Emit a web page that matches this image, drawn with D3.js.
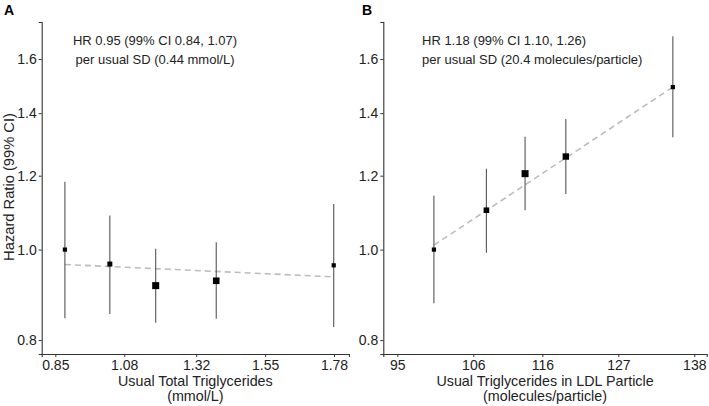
<!DOCTYPE html>
<html><head><meta charset="utf-8">
<script src="https://cdn.jsdelivr.net/npm/d3@7"></script>
<style>body{margin:0;background:#fff}text{font-family:"Liberation Sans",Arial,sans-serif}</style>
</head><body><svg id="c" width="709" height="406"></svg>
<script>
// Panel A data
const xA = [0.882, 1.032, 1.185, 1.387, 1.779];
const hrA = [1.000, 0.965, 0.915, 0.926, 0.962];
const loA = [0.844, 0.853, 0.835, 0.843, 0.826];
const hiA = [1.182, 1.088, 1.002, 1.018, 1.119];
const sizeA = [4.2, 5, 7, 6.6, 4.2];
const trendA = [[0.882, 0.964], [1.779, 0.935]];
const ticksA = [0.85, 1.08, 1.32, 1.55, 1.78];
// Panel B data
const xB = [100.3, 107.9, 113.5, 119.4, 134.9];
const hrB = [1.000, 1.102, 1.206, 1.258, 1.493];
const loB = [0.876, 0.992, 1.102, 1.147, 1.319];
const hiB = [1.142, 1.221, 1.321, 1.380, 1.692];
const sizeB = [4.2, 5.6, 7, 6.4, 4.2];
const trendB = [[100.3, 1.011], [134.9, 1.493]];
const ticksB = [95, 106, 116, 127, 138];
const yTicks = [0.8, 1.0, 1.2, 1.4, 1.6];

const svg = d3.select("#c");
const y = d3.scaleLog().domain([0.773, 1.753]).range([354, 22]);

function panel(opt) {
  const x = d3.scaleLinear().domain(opt.xdom).range(opt.xrange);
  const g = svg.append("g");
  const ya = g.append("g").attr("transform", `translate(${opt.xrange[0]},0)`)
    .call(d3.axisLeft(y).tickValues(yTicks).tickFormat(d3.format(".1f")).tickSizeOuter(0).tickSize(3).tickPadding(2));
  const xa = g.append("g").attr("transform", `translate(0,354)`)
    .call(d3.axisBottom(x).tickValues(opt.ticks).tickFormat(d => String(d)).tickSizeOuter(0).tickSize(3).tickPadding(3));
  [ya, xa].forEach(a => {
    a.select(".domain").attr("stroke", "#333").attr("stroke-width", 1.1);
    a.selectAll(".tick line").attr("stroke", "#333");
    a.selectAll(".tick text").attr("fill", "#222").style("font-size", "14px").style("font-family", '"Liberation Sans",Arial,sans-serif');
  });
  g.append("line")
    .attr("x1", x(opt.trend[0][0])).attr("y1", y(opt.trend[0][1]))
    .attr("x2", x(opt.trend[1][0])).attr("y2", y(opt.trend[1][1]))
    .attr("stroke", "#bdbdbd").attr("stroke-width", 1.6).attr("stroke-dasharray", "6,4");
  const idx = d3.range(opt.xs.length);
  g.selectAll(".ci").data(idx).join("line")
    .attr("x1", i => x(opt.xs[i])).attr("x2", i => x(opt.xs[i]))
    .attr("y1", i => y(opt.lo[i])).attr("y2", i => y(opt.hi[i]))
    .attr("stroke", "#555").attr("stroke-width", 1.1);
  g.selectAll(".pt").data(idx).join("rect")
    .attr("x", i => x(opt.xs[i]) - opt.size[i] / 2).attr("y", i => y(opt.hr[i]) - opt.size[i] / 2)
    .attr("width", i => opt.size[i]).attr("height", i => opt.size[i]).attr("fill", "#000");
  const xc = (opt.xrange[0] + opt.xrange[1]) / 2;
  opt.xtitle.forEach((t, k) => g.append("text").attr("x", xc).attr("y", 386 + k * 14.5)
    .attr("text-anchor", "middle").style("font-size", "14.3px").attr("fill", "#222").text(t));
  opt.ann.forEach((t, k) => g.append("text").attr("x", opt.annX).attr("y", 45 + k * 19)
    .attr("text-anchor", opt.annAnchor).style("font-size", "13px").attr("fill", "#222").text(t));
  g.append("text").attr("x", opt.labX).attr("y", 15).style("font-size", "14px").style("font-weight", "bold").text(opt.lab);
}

panel({xdom: [0.8046, 1.83], xrange: [41.7, 349], ticks: ticksA, xs: xA, hr: hrA, lo: loA, hi: hiA, size: sizeA, trend: trendA,
  xtitle: ["Usual Total Triglycerides", "(mmol/L)"], ann: ["HR 0.95 (99% CI 0.84, 1.07)", "per usual SD (0.44 mmol/L)"],
  annX: 155, annAnchor: "middle", lab: "A", labX: 4});
panel({xdom: [92.97, 139.8], xrange: [383.3, 706.7], ticks: ticksB, xs: xB, hr: hrB, lo: loB, hi: hiB, size: sizeB, trend: trendB,
  xtitle: ["Usual Triglycerides in LDL Particle", "(molecules/particle)"], ann: ["HR 1.18 (99% CI 1.10, 1.26)", "per usual SD (20.4 molecules/particle)"],
  annX: 422, annAnchor: "start", lab: "B", labX: 362});

svg.append("text").attr("transform", "translate(14,187) rotate(-90)").attr("text-anchor", "middle")
  .style("font-size", "14.7px").attr("fill", "#222").text("Hazard Ratio (99% CI)");
</script></body></html>
